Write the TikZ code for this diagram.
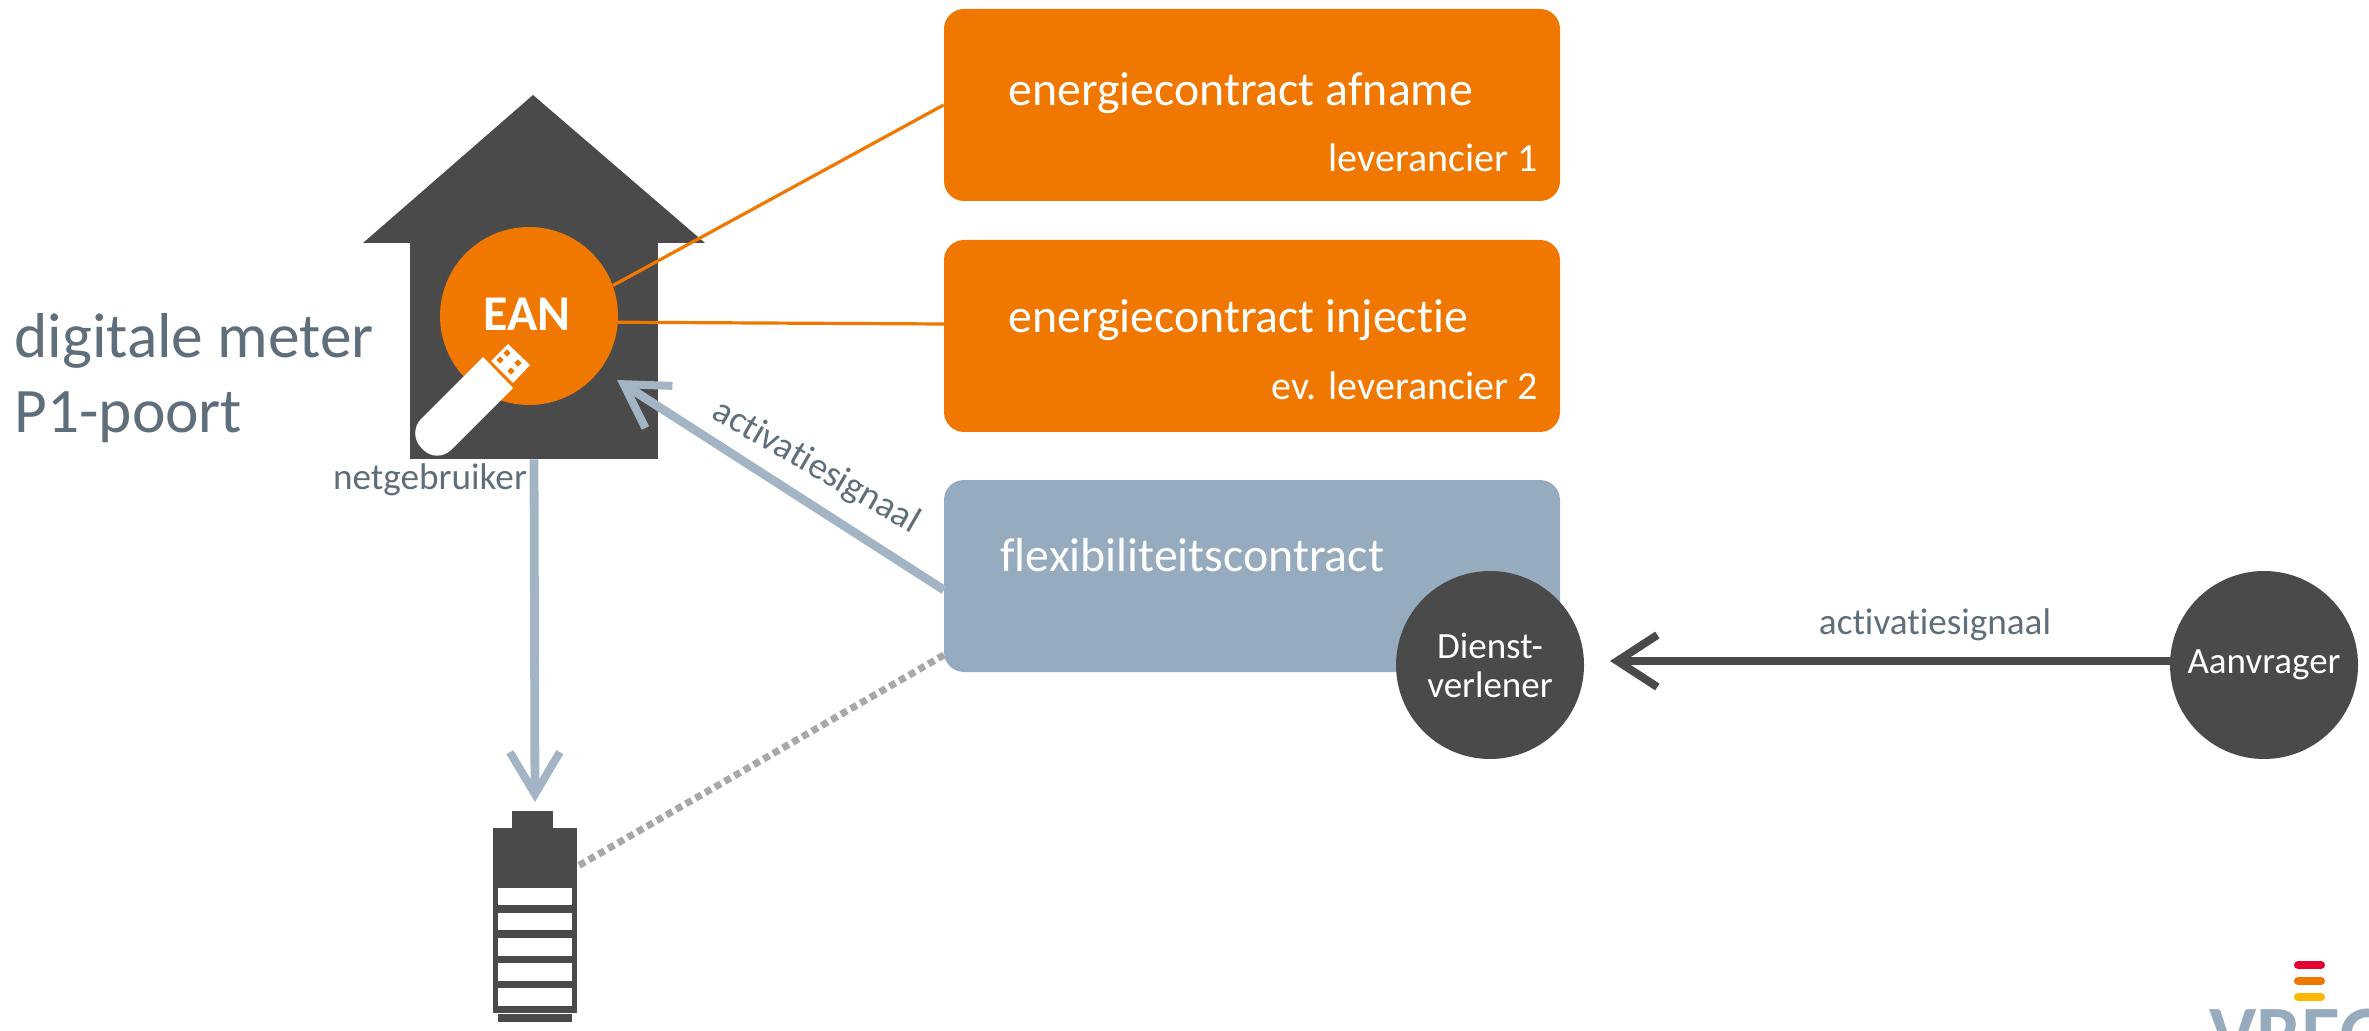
\documentclass[tikz,border=0pt]{standalone}
\usepackage{fontspec}
\setmainfont[RawFeature={-liga;-clig;-dlig;-calt}]{Carlito}
\usetikzlibrary{arrows.meta,shapes.geometric}
\definecolor{vorange}{HTML}{F07800}
\definecolor{vdark}{HTML}{4A4A4A}
\definecolor{vblue}{HTML}{96ABBE}
\definecolor{varrow}{HTML}{A3B4C4}
\definecolor{vtext}{HTML}{5F6E7B}
\definecolor{vgrey}{HTML}{A8A8A8}
\definecolor{vred}{HTML}{E60032}
\definecolor{vyellow}{HTML}{FFB800}
\tikzset{
  contract/.style={rectangle,rounded corners=10pt,minimum width=308pt,minimum height=96pt,inner sep=0pt},
  orangebox/.style={contract,fill=vorange},
  bluebox/.style={contract,fill=vblue},
  disc/.style={circle,fill=vdark,text=white,minimum size=94pt,inner sep=0pt,align=center,font=\fontsize{18.5}{19.5}\selectfont},
  boxtitle/.style={anchor=base west,text=white,inner sep=0pt,font=\fontsize{23.9}{26}\selectfont},
  boxsub/.style={anchor=base east,text=white,inner sep=0pt,font=\fontsize{20}{22}\selectfont},
  greytext/.style={text=vtext,inner sep=0pt,font=\fontsize{18.6}{20}\selectfont},
  feed/.style={vorange,line width=1.6pt},
  softarrow/.style={varrow,line width=4.4pt,-{Straight Barb[length=21pt,width=25pt,line width=4pt]}},
  darkarrow/.style={vdark,line width=3.8pt,-{Straight Barb[length=20pt,width=26pt,line width=4pt]}},
  dots/.style={vgrey,line width=3.5pt,dash pattern=on 3.4pt off 2.2pt},
  cell/.style={rectangle,fill=white,minimum width=37pt,minimum height=8.8pt,inner sep=0pt},
  logobar/.style={line width=4pt,line cap=round},
}
\begin{document}
\begin{tikzpicture}[x=0.5pt,y=-0.5pt]
\useasboundingbox (0,0) rectangle (2369,1031);
% house
\fill[vdark] (533,95) -- (705,243) -- (363,243) -- cycle;
\node[rectangle,fill=vdark,minimum width=124pt,minimum height=108pt,inner sep=0pt] (house) at (534,351) {};
% contract boxes
\node[orangebox] (box1) at (1252,105) {};
\node[orangebox] (box2) at (1252,336) {};
\node[bluebox] (box3) at (1252,576) {};
% EAN
\node[circle,fill=vorange,text=white,minimum size=89pt,inner sep=0pt] (ean) at (529,316) {};
\node[text=white,inner sep=0pt,font=\bfseries\fontsize{25}{26}\selectfont] (eantext) at (527,314) {EAN};
% USB stick
\fill[white,rounded corners=10pt] (437,464) -- (407,433) [sharp corners] -- (483,357) -- (513,388) [rounded corners=10pt] -- cycle;
\fill[white] (508,344) -- (530,365) -- (513,383) -- (491,361) -- cycle;
\foreach \px/\py in {507/353,518/363,500/360,511/371}{
  \fill[vorange,rotate around={45:(\px,\py)}] (\px-2.5,\py-2.5) rectangle (\px+2.5,\py+2.5);
}
% battery
\node[rectangle,fill=vdark,minimum width=20.5pt,minimum height=9pt,inner sep=0pt] (cap) at (532.5,819.5) {};
\node[rectangle,fill=vdark,minimum width=42pt,minimum height=92.5pt,inner sep=0pt] (batt) at (535,920.5) {};
\node[rectangle,fill=vdark,minimum width=37pt,minimum height=4pt,inner sep=0pt] (foot) at (535,1018) {};
\node[cell] (c1) at (535,896.5) {};
\node[cell] (c2) at (535,921.5) {};
\node[cell] (c3) at (535,947) {};
\node[cell] (c4) at (535,972) {};
\node[cell] (c5) at (535,997) {};
% named free ends
\coordinate (inj) at (944,324);
\coordinate (meterin) at (617,380);
\coordinate (flexout) at (944,590);
\coordinate (flexlow) at (944,655);
\coordinate (battin) at (578,866);
\coordinate (topbatt) at (535,802);
\coordinate (dientip) at (1610,661);
\coordinate (aanout) at (2172,661);
% connectors
\draw[feed] (ean.20) -- (box1.west);
\draw[feed] (ean.356) -- (inj);
\draw[softarrow] (flexout) -- (meterin);
\draw[softarrow] (house.south) -- (topbatt);
\draw[dots] (flexlow) -- (battin);
% discs
\node[disc] (dienst) at (1490,665) {Dienst-\\verlener};
\node[disc] (aanvrager) at (2264,665) {Aanvrager};
\draw[darkarrow] (aanout) -- (dientip);
% texts
\node[boxtitle] (t1) at (1008,106) {energiecontract afname};
\node[boxsub] (s1) at (1538,172) {leverancier 1};
\node[boxtitle] (t2) at (1008,333) {energiecontract injectie};
\node[boxsub] (s2) at (1538,400) {ev. leverancier 2};
\node[boxtitle] (t3) at (1000,571) {flexibiliteitscontract};
\node[greytext,rotate=-30] (sig1) at (816,467) {activatiesignaal};
\node[greytext] (sig2) at (1935,625) {activatiesignaal};
\node[greytext] (net) at (430,480) {netgebruiker};
\node[greytext,anchor=base west,font=\fontsize{31.7}{34}\selectfont] (dm) at (14,358) {digitale meter};
\node[greytext,anchor=base west,font=\fontsize{31.7}{34}\selectfont] (p1) at (14,433) {P1-poort};
% logo
\draw[logobar,vred] (2298,965) -- (2321,965);
\draw[logobar,vorange] (2298,981) -- (2321,981);
\draw[logobar,vyellow] (2298,997) -- (2321,997);
\begin{scope}
\clip (0,0) rectangle (2369,1031);
\node[anchor=base west,inner sep=0pt,text=vblue,font=\bfseries\fontsize{40}{42}\selectfont] (logo) at (2209,1061) {VREG};
\end{scope}
\end{tikzpicture}
\end{document}
